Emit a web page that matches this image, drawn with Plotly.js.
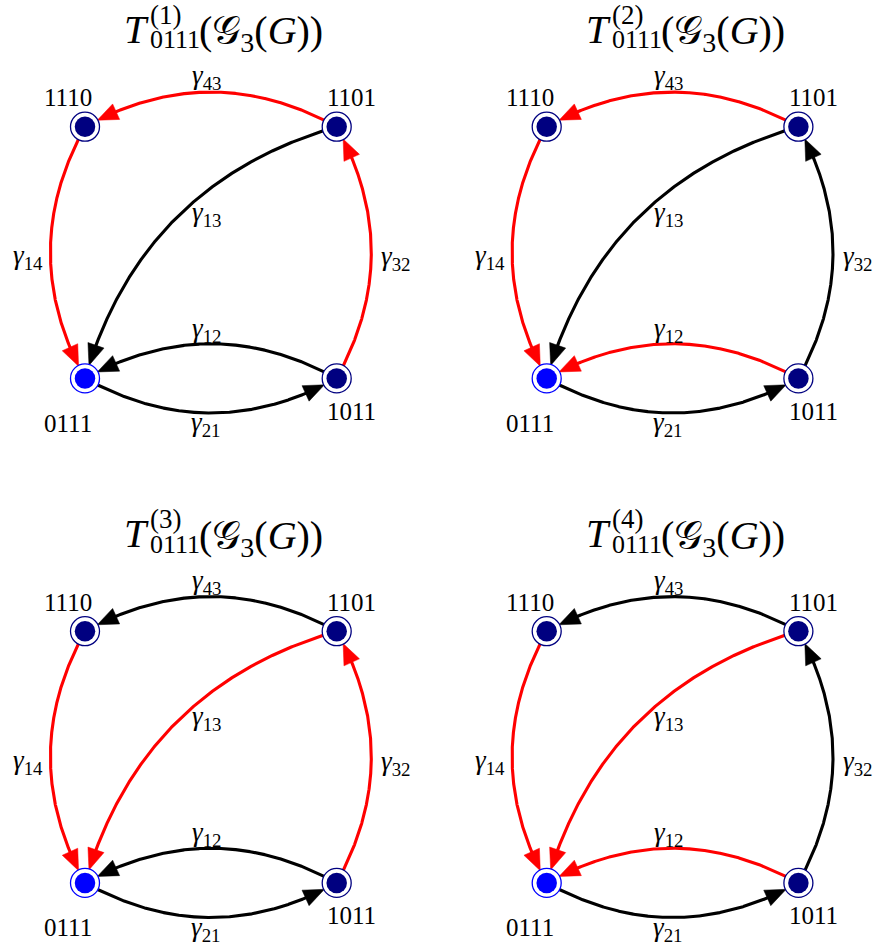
<!DOCTYPE html>
<html><head><meta charset="utf-8">
<script src="https://cdn.plot.ly/plotly-3.0.1.min.js"></script>
<style>html,body{margin:0;padding:0;background:#fff}</style>
</head><body><div id="chart" style="width:881px;height:947px"></div>
<script>
// ---------------- data ----------------
const nodeNames = ['1110', '1101', '0111', '1011'];
const nodeX = [0, 1, 0, 1];
const nodeY = [1, 1, 0, 0];
const rootNode = '0111';

const edgeNames = ['43', '14', '32', '13', '12', '21'];
const edgeSource = ['1101', '1110', '1011', '1101', '1011', '0111'];
const edgeTarget = ['1110', '0111', '1101', '0111', '0111', '1011'];

const panelIndex = ['(1)', '(2)', '(3)', '(4)'];
const treeEdges1 = ['43', '14', '32'];
const treeEdges2 = ['43', '14', '12'];
const treeEdges3 = ['14', '32', '13'];
const treeEdges4 = ['14', '13', '12'];
const treeEdges = [treeEdges1, treeEdges2, treeEdges3, treeEdges4];

// ---------------- styling / layout ----------------
const W = 881, H = 947, PX = 251.7;
const FONT = '"Liberation Serif", "Times New Roman", "DejaVu Serif", serif';
const RED = '#ff0000', BLACK = '#000000';
const NAVY = '#000080', BLUE = '#0000ff';
const K = 0.275;               // curvature of edges
const colOrigin = [85, 546.7];  // pixel x of node x=0
const rowOrigin = [126.7, 631.2]; // pixel y of node y=1
const colDom = [[0, 440], [441, 881]];
const rowDom = [[0, 473], [474, 947]];
const nodeLabelOff = {'1110': [-17, -29], '1101': [15, -29], '0111': [-17, 45], '1011': [15, 33]};
const edgeLabelOff = {'43': [-4, -15], '14': [-22, 4.5], '32': [25, 5.5], '13': [31, -4], '12': [-4, -14], '21': [-5, 11]};

const traces = [];
const annotations = [];
const layout = {
  width: W, height: H, margin: {l: 0, r: 0, t: 0, b: 0},
  paper_bgcolor: '#fff', plot_bgcolor: '#fff', showlegend: false,
  font: {family: FONT, size: 25},
  annotations: annotations
};

function idx(n) { return nodeNames.indexOf(n); }
function dist(a, b) { return Math.hypot(a[0] - b[0], a[1] - b[1]); }

for (let p = 0; p < 4; p++) {
  const col = p % 2, row = Math.floor(p / 2);
  const ox = colOrigin[col], oy = rowOrigin[row];
  const suf = p === 0 ? '' : String(p + 1);
  const xa = 'x' + suf, ya = 'y' + suf;
  const [d0, d1] = colDom[col], [t0, t1] = rowDom[row];
  layout['xaxis' + suf] = {
    domain: [d0 / W, d1 / W], range: [(d0 - ox) / PX, (d1 - ox) / PX],
    visible: false, fixedrange: true, anchor: ya
  };
  layout['yaxis' + suf] = {
    domain: [1 - t1 / H, 1 - t0 / H], range: [1 - (t1 - oy) / PX, 1 + (oy - t0) / PX],
    visible: false, fixedrange: true, anchor: xa
  };
  const off = (x, y, dx, dy) => [x + dx / PX, y - dy / PX];

  // edges
  for (let e = 0; e < edgeNames.length; e++) {
    const s = idx(edgeSource[e]), t = idx(edgeTarget[e]);
    const P0 = [nodeX[s], nodeY[s]], P2 = [nodeX[t], nodeY[t]];
    const dx = P2[0] - P0[0], dy = P2[1] - P0[1];
    const C = [(P0[0] + P2[0]) / 2 + K * dy, (P0[1] + P2[1]) / 2 - K * dx];
    const N = 800, pts = [];
    for (let i = 0; i <= N; i++) {
      const u = i / N, a = (1 - u) * (1 - u), b = 2 * u * (1 - u), c = u * u;
      pts.push([a * P0[0] + b * C[0] + c * P2[0], a * P0[1] + b * C[1] + c * P2[1]]);
    }
    const rS = 14 / PX, rT = 13.5 / PX, L = 21 / PX, HW = 8.5 / PX;
    let iS = 0; while (dist(pts[iS], P0) < rS) iS++;
    let iT = N; while (dist(pts[iT], P2) < rT) iT--;
    let iB = iT; while (dist(pts[iB], P2) < rT + L) iB--;
    const color = treeEdges[p].includes(edgeNames[e]) ? RED : BLACK;
    const lx = [], ly = [];
    for (let i = iS; i <= Math.min(iB + 6, N); i++) { lx.push(pts[i][0]); ly.push(pts[i][1]); }
    traces.push({type: 'scatter', mode: 'lines', x: lx, y: ly, xaxis: xa, yaxis: ya,
      line: {color: color, width: 3.1}, hoverinfo: 'skip'});
    const tip = pts[iT], base = pts[iB];
    const ux = (tip[0] - base[0]), uy = (tip[1] - base[1]); const ul = Math.hypot(ux, uy);
    const nx = -uy / ul * HW, ny = ux / ul * HW;
    traces.push({type: 'scatter', mode: 'lines', fill: 'toself', fillcolor: color,
      x: [tip[0], base[0] + nx, base[0] - nx, tip[0]], y: [tip[1], base[1] + ny, base[1] - ny, tip[1]],
      xaxis: xa, yaxis: ya, line: {color: color, width: 0.5}, hoverinfo: 'skip'});
    // label at curve midpoint
    const mid = pts[N / 2];
    const lo = edgeLabelOff[edgeNames[e]];
    const lp = off(mid[0], mid[1], lo[0], lo[1]);
    annotations.push({xref: xa, yref: ya, x: lp[0], y: lp[1], showarrow: false,
      xanchor: 'center', yanchor: 'middle',
      text: '<i>γ</i><sub>' + edgeNames[e] + '</sub>', font: {family: FONT, size: 27, color: '#000'}});
  }

  // nodes: outer ring then inner disk
  const ringCol = nodeNames.map(n => n === rootNode ? BLUE : NAVY);
  traces.push({type: 'scatter', mode: 'markers', x: nodeX, y: nodeY, xaxis: xa, yaxis: ya,
    marker: {size: 29, color: '#ffffff', line: {color: ringCol, width: 1.3}}, hoverinfo: 'skip'});
  traces.push({type: 'scatter', mode: 'markers', x: nodeX, y: nodeY, xaxis: xa, yaxis: ya,
    marker: {size: 20.5, color: ringCol, line: {width: 0}}, hoverinfo: 'skip'});
  nodeNames.forEach((n, i) => {
    const o = nodeLabelOff[n];
    const q = off(nodeX[i], nodeY[i], o[0], o[1]);
    annotations.push({xref: xa, yref: ya, x: q[0], y: q[1], showarrow: false,
      xanchor: 'center', yanchor: 'middle', text: n, font: {family: FONT, size: 25, color: '#000'}});
  });

  // title pieces (relative to node 1110 at (0,1))
  const tT = off(0, 1, 66, -97.7);
  annotations.push({xref: xa, yref: ya, x: tT[0], y: tT[1], showarrow: false, xanchor: 'right', yanchor: 'middle',
    text: '<i>T</i>', font: {family: FONT, size: 40, color: '#000'}});
  const tSup = off(0, 1, 63, -112);
  annotations.push({xref: xa, yref: ya, x: tSup[0], y: tSup[1], showarrow: false, xanchor: 'left', yanchor: 'middle',
    text: panelIndex[p], font: {family: FONT, size: 27, color: '#000'}});
  const tSub = off(0, 1, 63, -87);
  annotations.push({xref: xa, yref: ya, x: tSub[0], y: tSub[1], showarrow: false, xanchor: 'left', yanchor: 'middle',
    text: rootNode, font: {family: FONT, size: 26, color: '#000'}});
  const tMain = off(0, 1, 112, -93.7);
  annotations.push({xref: xa, yref: ya, x: tMain[0], y: tMain[1], showarrow: false, xanchor: 'left', yanchor: 'middle',
    text: '(𝒢<sub>3</sub>(<i>G</i>))', font: {family: FONT, size: 40, color: '#000'}});
}

Plotly.newPlot('chart', traces, layout, {staticPlot: true, displayModeBar: false});
</script>
</body></html>
